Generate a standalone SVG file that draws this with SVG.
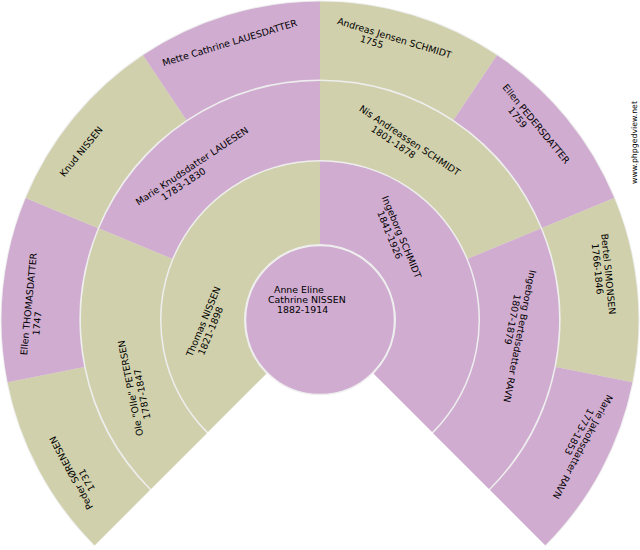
<svg xmlns="http://www.w3.org/2000/svg" width="640" height="550" viewBox="0 0 640 550">
<style>
.m{fill:#D0D0AC}
.f{fill:#D0ACD0}
.bg{fill:#EEEEEE}
text{font-family:"DejaVu Sans","Liberation Sans",sans-serif;font-size:9.4px;fill:#000}
.wm{font-size:7.8px}
</style>
<rect width="640" height="550" fill="#FFFFFF"/>
<path class="bg" d="M320,320 L94.08,545.92 A319.5,319.5 0 1 1 545.92,545.92 Z"/>

<g id="p-peder">
<path class="m" d="M94.79,545.21 A318.5,318.5 0 0 1 7.62,382.14 L84.12,366.92 A240.5,240.5 0 0 0 149.94,490.06 Z"/>
<g transform="translate(105.89,530.85) rotate(-118.125)"><text x="26.9" y="0">Peder SØRENSEN</text><text x="41.9" y="10.3">1731</text></g>
</g>
<g id="p-ellen-t">
<path class="f" d="M7.62,382.14 A318.5,318.5 0 0 1 25.74,198.12 L97.81,227.97 A240.5,240.5 0 0 0 84.12,366.92 Z"/>
<g transform="translate(24.83,376.36) rotate(-84.375)"><text x="20.9" y="0">Ellen THOMASDATTER</text><text x="41.9" y="10.3">1747</text></g>
</g>
<g id="p-knud">
<path class="m" d="M25.74,198.12 A318.5,318.5 0 0 1 143.05,55.18 L186.39,120.03 A240.5,240.5 0 0 0 97.81,227.97 Z"/>
<g transform="translate(43.28,202.84) rotate(-50.625)"><text x="32.9" y="0">Knud NISSEN</text></g>
</g>
<g id="p-mette">
<path class="f" d="M143.05,55.18 A318.5,318.5 0 0 1 320,1.5 L320,79.5 A240.5,240.5 0 0 0 186.39,120.03 Z"/>
<g transform="translate(154.97,68.87) rotate(-16.875)"><text x="9" y="0">Mette Cathrine LAUESDATTER</text></g>
</g>
<g id="p-andreas">
<path class="m" d="M320,1.5 A318.5,318.5 0 0 1 496.95,55.18 L453.61,120.03 A240.5,240.5 0 0 0 320,79.5 Z"/>
<g transform="translate(322.31,19.51) rotate(16.875)"><text x="15" y="0">Andreas Jensen SCHMIDT</text><text x="41.9" y="10.3">1755</text></g>
</g>
<g id="p-ellen-p">
<path class="f" d="M496.95,55.18 A318.5,318.5 0 0 1 614.26,198.12 L542.19,227.97 A240.5,240.5 0 0 0 453.61,120.03 Z"/>
<g transform="translate(488.86,71.43) rotate(50.625)"><text x="20.9" y="0">Ellen PEDERSDATTER</text><text x="41.9" y="10.3">1759</text></g>
</g>
<g id="p-bertel">
<path class="m" d="M614.26,198.12 A318.5,318.5 0 0 1 632.38,382.14 L555.88,366.92 A240.5,240.5 0 0 0 542.19,227.97 Z"/>
<g transform="translate(598.5,207.14) rotate(84.375)"><text x="26.9" y="0">Bertel SIMONSEN</text><text x="35.9" y="10.3">1766-1846</text></g>
</g>
<g id="p-marie-j">
<path class="f" d="M632.38,382.14 A318.5,318.5 0 0 1 545.21,545.21 L490.06,490.06 A240.5,240.5 0 0 0 555.88,366.92 Z"/>
<g transform="translate(614.27,380.89) rotate(118.125)"><text x="15" y="0">Marie Jakobsdatter RAVN</text><text x="35.9" y="10.3">1773-1853</text></g>
</g>

<g id="p-ole">
<path class="m" d="M151,489 A239,239 0 0 1 99.19,228.54 L172.18,258.77 A160,160 0 0 0 206.86,433.14 Z"/>
<g transform="translate(147.91,458.66) rotate(-101.25)"><text x="23.9" y="0">Ole "Olle" PETERSEN</text><text x="38.9" y="10.3">1787-1847</text></g>
</g>
<g id="p-marie-k">
<path class="f" d="M99.19,228.54 A239,239 0 0 1 320,81 L320,160 A160,160 0 0 0 172.18,258.77 Z"/>
<g transform="translate(126.03,214.09) rotate(-33.75)"><text x="15" y="0">Marie Knudsdatter LAUESEN</text><text x="38.9" y="10.3">1783-1830</text></g>
</g>
<g id="p-nis">
<path class="m" d="M320,81 A239,239 0 0 1 540.81,228.54 L467.82,258.77 A160,160 0 0 0 320,160 Z"/>
<g transform="translate(343.62,100.27) rotate(33.75)"><text x="17.9" y="0">Nis Andreassen SCHMIDT</text><text x="38.9" y="10.3">1801-1878</text></g>
</g>
<g id="p-ingeborg-b">
<path class="f" d="M540.81,228.54 A239,239 0 0 1 489,489 L433.14,433.14 A160,160 0 0 0 467.82,258.77 Z"/>
<g transform="translate(532.05,257.72) rotate(101.25)"><text x="12" y="0">Ingeborg Bertelsdatter RAVN</text><text x="38.9" y="10.3">1807-1879</text></g>
</g>

<g id="p-thomas">
<path class="m" d="M207.92,432.08 A158.5,158.5 0 0 1 320,161.5 L320,244 A76,76 0 0 0 266.26,373.74 Z"/>
<g transform="translate(179.45,387.68) rotate(-67.5)"><text x="32.9" y="0">Thomas NISSEN</text><text x="38.9" y="10.3">1821-1898</text></g>
</g>
<g id="p-ingeborg-s">
<path class="f" d="M320,161.5 A158.5,158.5 0 0 1 432.08,432.08 L373.74,373.74 A76,76 0 0 0 320,244 Z"/>
<g transform="translate(371.52,172.75) rotate(67.5)"><text x="26.9" y="0">Ingeborg SCHMIDT</text><text x="38.9" y="10.3">1841-1926</text></g>
</g>

<g id="p-anne">
<circle class="f" cx="320" cy="320" r="74.5" stroke="#EEEEEE" stroke-width="1.5"/>
<g transform="translate(265,292.5)"><text x="9" y="0">Anne Eline</text><text x="3" y="10.3">Cathrine NISSEN</text><text x="12" y="20.6">1882-1914</text></g>
</g>

<text class="wm" transform="translate(637,184) rotate(-90)">www.phpgedview.net</text>
</svg>
